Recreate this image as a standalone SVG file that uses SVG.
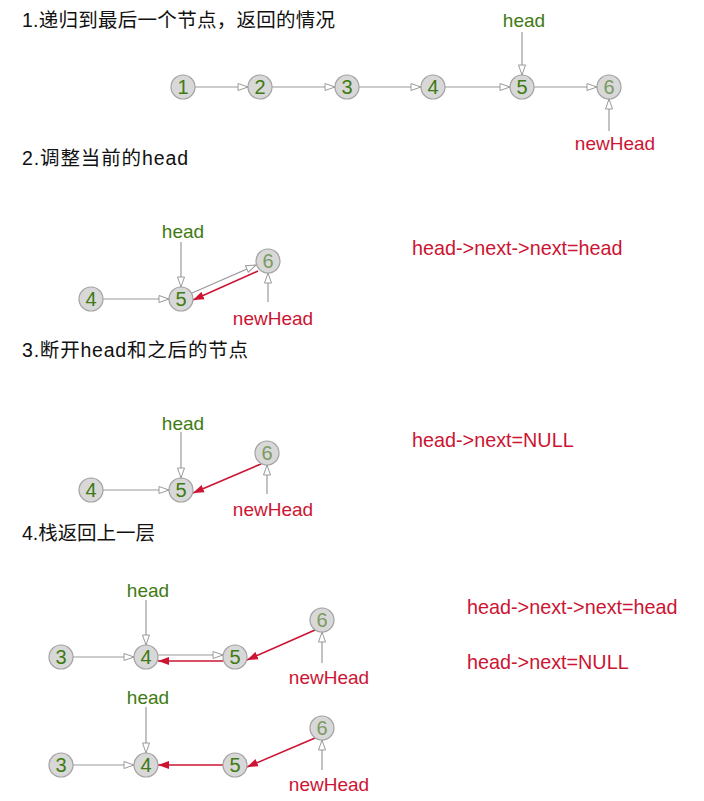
<svg xmlns="http://www.w3.org/2000/svg" width="704" height="801" viewBox="0 0 704 801">
<style>
.title{font-family:"Liberation Sans","Noto Sans CJK SC",sans-serif;font-size:19.5px;fill:#111}
.node circle{fill:#d8d8d8;stroke:#a3a3a3;stroke-width:1.2}
.node text{font-family:"Liberation Sans",Arial,sans-serif;font-size:20px;fill:#3f7a12;text-anchor:middle}
.node.last text{fill:#7d9a62}
.lbl{font-family:"Liberation Sans",Arial,sans-serif;font-size:19px;text-anchor:middle}
.green{fill:#3f7a12}
.red{fill:#cc1433}
.code{font-family:"Liberation Sans",Arial,sans-serif;font-size:19.8px;fill:#cc1433}
.g{stroke:#9a9a9a;stroke-width:1.2;fill:none;marker-end:url(#ga)}
.r{stroke:#cc1433;stroke-width:1.6;fill:none;marker-end:url(#ra)}
</style>
<defs>
<marker id="ga" markerUnits="userSpaceOnUse" markerWidth="12" markerHeight="9" refX="11" refY="4.5" orient="auto">
<path d="M1,1 L11,4.5 L1,8 z" fill="#fff" stroke="#9a9a9a" stroke-width="1"/>
</marker>
<marker id="ra" markerUnits="userSpaceOnUse" markerWidth="12" markerHeight="9" refX="11" refY="4.5" orient="auto">
<path d="M0,0.5 L11,4.5 L0,8.5 z" fill="#cc1433"/>
</marker>
</defs>
<rect width="704" height="801" fill="#fff"/>

<text class="title" x="22" y="27" textLength="313">1.递归到最后一个节点，返回的情况</text>
<text class="title" x="22" y="165" textLength="166">2.调整当前的head</text>
<text class="title" x="22" y="357" textLength="226">3.断开head和之后的节点</text>
<text class="title" x="22" y="540" textLength="133">4.栈返回上一层</text>

<g id="connectors">
<!-- section 1 -->
<line class="g" x1="195" y1="87" x2="248" y2="87"/>
<line class="g" x1="272" y1="87" x2="335" y2="87"/>
<line class="g" x1="359" y1="87" x2="421" y2="87"/>
<line class="g" x1="445" y1="87" x2="510" y2="87"/>
<line class="g" x1="534" y1="87" x2="597" y2="87"/>
<line class="g" x1="522" y1="32" x2="522" y2="75"/>
<line class="g" x1="609" y1="131" x2="609" y2="99"/>
<!-- section 2 -->
<line class="g" x1="103" y1="299" x2="169" y2="299"/>
<line class="g" x1="181" y1="242" x2="181" y2="287"/>
<line class="g" x1="192" y1="293" x2="256" y2="265"/>
<line class="r" x1="258" y1="271" x2="193" y2="300"/>
<line class="g" x1="268" y1="302" x2="268" y2="273"/>
<!-- section 3 -->
<line class="g" x1="103" y1="490" x2="169" y2="490"/>
<line class="g" x1="181" y1="432" x2="181" y2="478"/>
<line class="r" x1="261" y1="464" x2="193" y2="493"/>
<line class="g" x1="267" y1="494" x2="267" y2="465"/>
<!-- section 4 top -->
<line class="g" x1="73" y1="657" x2="134" y2="657"/>
<line class="g" x1="146" y1="600" x2="146" y2="645"/>
<line class="g" x1="158" y1="655" x2="223" y2="655"/>
<line class="r" x1="223" y1="661" x2="158" y2="661"/>
<line class="r" x1="315" y1="630" x2="247" y2="660"/>
<line class="g" x1="322" y1="663" x2="322" y2="632"/>
<!-- section 4 bottom -->
<line class="g" x1="73" y1="765" x2="134" y2="765"/>
<line class="g" x1="146" y1="707" x2="146" y2="753"/>
<line class="r" x1="223" y1="765" x2="158" y2="765"/>
<line class="r" x1="315" y1="738" x2="247" y2="767"/>
<line class="g" x1="322" y1="770" x2="322" y2="740"/>
</g>

<!-- section 1 nodes -->
<g id="s1n1" class="node"><circle cx="183" cy="87" r="12"/><text x="183" y="94">1</text></g>
<g id="s1n2" class="node"><circle cx="260" cy="87" r="12"/><text x="260" y="94">2</text></g>
<g id="s1n3" class="node"><circle cx="347" cy="87" r="12"/><text x="347" y="94">3</text></g>
<g id="s1n4" class="node"><circle cx="433" cy="87" r="12"/><text x="433" y="94">4</text></g>
<g id="s1n5" class="node"><circle cx="522" cy="87" r="12"/><text x="522" y="94">5</text></g>
<g id="s1n6" class="node last"><circle cx="609" cy="87" r="12"/><text x="609" y="94">6</text></g>
<g id="s1head"><text class="lbl green" x="524" y="27">head</text></g>
<g id="s1newhead"><text class="lbl red" x="615" y="150">newHead</text></g>

<!-- section 2 -->
<g id="s2n4" class="node"><circle cx="91" cy="299" r="12"/><text x="91" y="306">4</text></g>
<g id="s2n5" class="node"><circle cx="181" cy="299" r="12"/><text x="181" y="306">5</text></g>
<g id="s2n6" class="node last"><circle cx="268" cy="261" r="12"/><text x="268" y="268">6</text></g>
<g id="s2head"><text class="lbl green" x="183" y="238">head</text></g>
<g id="s2newhead"><text class="lbl red" x="273" y="325">newHead</text></g>
<g id="s2code"><text class="code" x="412" y="255">head-&gt;next-&gt;next=head</text></g>

<!-- section 3 -->
<g id="s3n4" class="node"><circle cx="91" cy="490" r="12"/><text x="91" y="497">4</text></g>
<g id="s3n5" class="node"><circle cx="181" cy="490" r="12"/><text x="181" y="497">5</text></g>
<g id="s3n6" class="node last"><circle cx="267" cy="453" r="12"/><text x="267" y="460">6</text></g>
<g id="s3head"><text class="lbl green" x="183" y="430">head</text></g>
<g id="s3newhead"><text class="lbl red" x="273" y="516">newHead</text></g>
<g id="s3code"><text class="code" x="412" y="447">head-&gt;next=NULL</text></g>

<!-- section 4 top -->
<g id="s4an3" class="node"><circle cx="61" cy="657" r="12"/><text x="61" y="664">3</text></g>
<g id="s4an4" class="node"><circle cx="146" cy="657" r="12"/><text x="146" y="664">4</text></g>
<g id="s4an5" class="node"><circle cx="235" cy="657" r="12"/><text x="235" y="664">5</text></g>
<g id="s4an6" class="node last"><circle cx="322" cy="620" r="12"/><text x="322" y="627">6</text></g>
<g id="s4ahead"><text class="lbl green" x="148" y="597">head</text></g>
<g id="s4anewhead"><text class="lbl red" x="329" y="684">newHead</text></g>
<g id="s4code1"><text class="code" x="467" y="614">head-&gt;next-&gt;next=head</text></g>
<g id="s4code2"><text class="code" x="467" y="669">head-&gt;next=NULL</text></g>

<!-- section 4 bottom -->
<g id="s4bn3" class="node"><circle cx="61" cy="765" r="12"/><text x="61" y="772">3</text></g>
<g id="s4bn4" class="node"><circle cx="146" cy="765" r="12"/><text x="146" y="772">4</text></g>
<g id="s4bn5" class="node"><circle cx="235" cy="765" r="12"/><text x="235" y="772">5</text></g>
<g id="s4bn6" class="node last"><circle cx="322" cy="728" r="12"/><text x="322" y="735">6</text></g>
<g id="s4bhead"><text class="lbl green" x="148" y="704">head</text></g>
<g id="s4bnewhead"><text class="lbl red" x="329" y="791">newHead</text></g>
</svg>
